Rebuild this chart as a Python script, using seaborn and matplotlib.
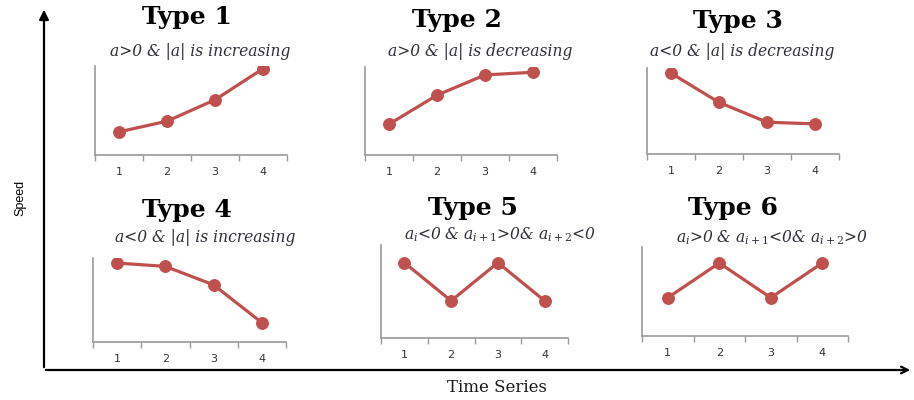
import matplotlib
matplotlib.use("Agg")
import matplotlib.pyplot as plt
from matplotlib.patches import FancyArrowPatch
from matplotlib.ticker import FixedLocator, NullFormatter
import pandas as pd
import seaborn as sns

sns.set_style("white")
plt.rcParams["font.family"] = ["DejaVu Sans"]
plt.rcParams["mathtext.fontset"] = "dejavuserif"

# Time steps shared by all six panels
steps = [1, 2, 3, 4]

# Speed profile of each motion type
type1 = [2.6, 3.8, 6.2, 9.7]
type2 = [3.5, 6.8, 9.1, 9.4]
type3 = [9.4, 6.0, 3.7, 3.5]
type4 = [9.4, 9.0, 6.8, 2.3]
type5 = [8.1, 4.0, 8.1, 4.0]
type6 = [4.3, 8.2, 4.3, 8.2]

titles = ["Type 1", "Type 2", "Type 3", "Type 4", "Type 5", "Type 6"]
subtitles = [
    "a>0 & |a| is increasing",
    "a>0 & |a| is decreasing",
    "a<0 & |a| is decreasing",
    "a<0 & |a| is increasing",
    r"$a_i$<0 & $a_{i+1}$>0& $a_{i+2}$<0",
    r"$a_i$>0 & $a_{i+1}$<0& $a_{i+2}$>0",
]
series = [type1, type2, type3, type4, type5, type6]

W, H = 914, 400
fig = plt.figure(figsize=(W / 100, H / 100), dpi=100)

# Panel boxes in pixels: left, right, top, bottom
boxes = [
    (95, 287, 66, 155),
    (365, 557, 67, 155),
    (647, 839, 68, 154),
    (93, 286, 258, 342),
    (381, 568, 245, 338),
    (642, 848, 247, 336),
]
title_xy = [(187, 17), (457, 20), (738, 21), (187, 210), (473, 208), (733, 208)]
sub_xy = [(200, 52), (480, 52), (742, 52), (205, 238), (500, 235), (772, 238)]

line_color = "#C0504D"
spine_color = "#9a9a9a"
text_color = "#30303c"

for vals, (l, r, t, b) in zip(series, boxes):
    ax = fig.add_axes([l / W, 1 - b / H, (r - l) / W, (b - t) / H])
    df = pd.DataFrame({"step": steps, "speed": vals})
    sns.lineplot(data=df, x="step", y="speed", ax=ax, color=line_color,
                 linewidth=2.3, marker="o", markersize=8.5,
                 markeredgecolor=line_color, markerfacecolor=line_color)
    ax.set_xlim(0.5, 4.5)
    ax.set_ylim(0, 10)
    ax.set_xlabel("")
    ax.set_ylabel("")
    ax.set_facecolor("none")
    for side in ("top", "right"):
        ax.spines[side].set_visible(False)
    for side in ("left", "bottom"):
        ax.spines[side].set_color(spine_color)
        ax.spines[side].set_linewidth(1.2)
    ax.set_yticks([])
    # boundary ticks between categories, labels centred on categories
    ax.xaxis.set_major_locator(FixedLocator([0.5, 1.5, 2.5, 3.5, 4.5]))
    ax.xaxis.set_major_formatter(NullFormatter())
    ax.xaxis.set_minor_locator(FixedLocator(steps))
    ax.set_xticklabels([str(s) for s in steps], minor=True)
    ax.tick_params(axis="x", which="major", direction="out", length=4,
                   width=1.0, color=spine_color, bottom=True)
    ax.tick_params(axis="x", which="minor", length=0, pad=9,
                   labelsize=8, labelcolor="#333333")

for (x, y), txt in zip(title_xy, titles):
    fig.text(x / W, 1 - y / H, txt, ha="center", va="center",
             fontsize=18, fontweight="bold", family="DejaVu Serif", color="black")
for (x, y), txt in zip(sub_xy, subtitles):
    fig.text(x / W, 1 - y / H, txt, ha="center", va="center",
             fontsize=11.2, style="italic", family="DejaVu Serif", color=text_color)

# Overall axes drawn as arrows
fig.add_artist(FancyArrowPatch(
    (44 / W, 1 - 370 / H), (44 / W, 1 - 7 / H), transform=fig.transFigure,
    arrowstyle="-|>", mutation_scale=14, linewidth=1.6, color="black"))
fig.add_artist(FancyArrowPatch(
    (43 / W, 1 - 370 / H), (913 / W, 1 - 370 / H), transform=fig.transFigure,
    arrowstyle="->", mutation_scale=12, linewidth=1.6, color="black"))

fig.text(20 / W, 1 - 198 / H, "Speed", rotation=90, ha="center", va="center",
         fontsize=9, family="Liberation Sans", color="black")
fig.text(497 / W, 1 - 387 / H, "Time Series", ha="center", va="center",
         fontsize=12, family="DejaVu Serif", color="#1a1a1a")

fig.savefig("out.png", dpi=100)
